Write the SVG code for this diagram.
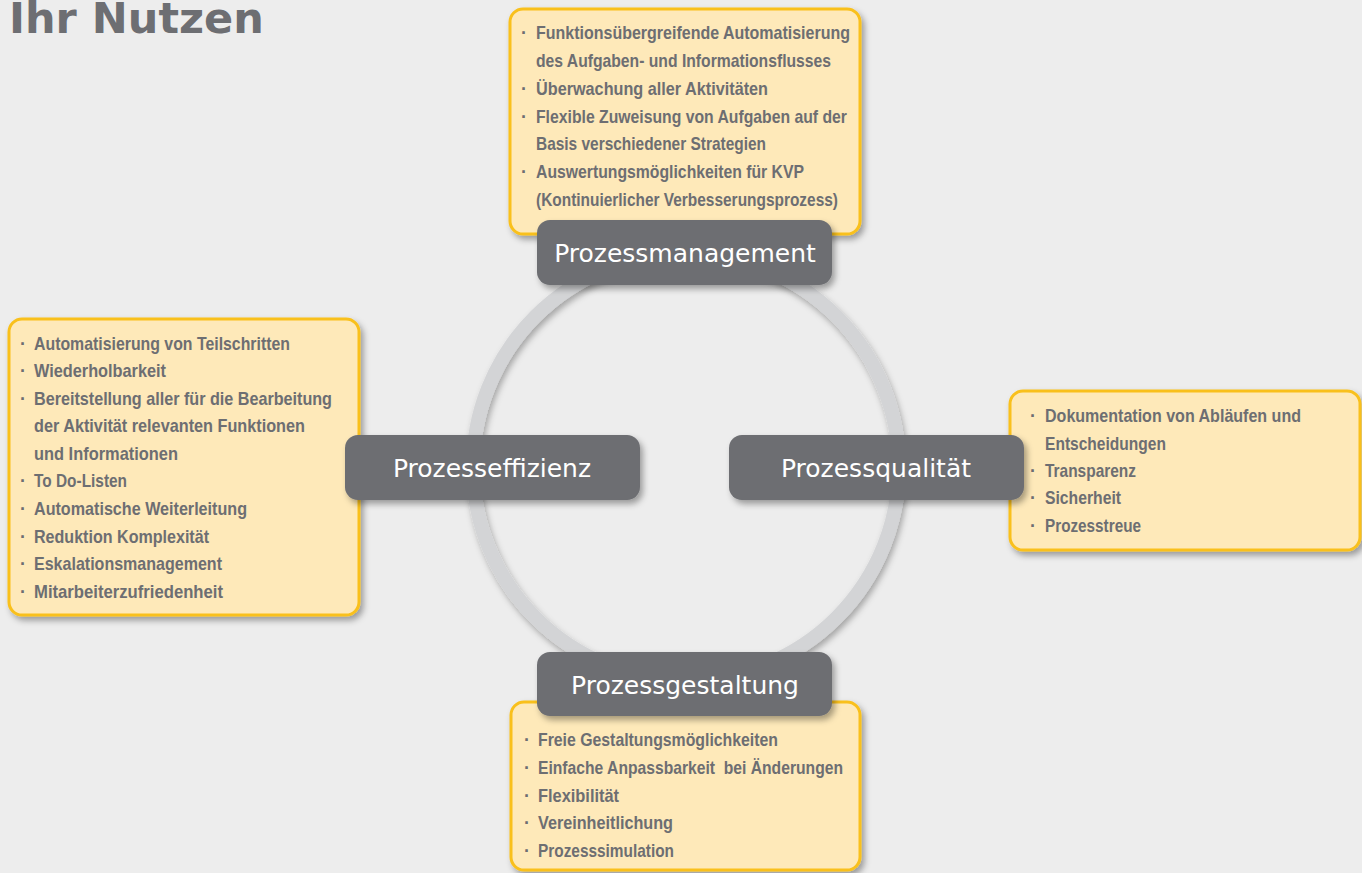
<svg xmlns="http://www.w3.org/2000/svg" width="1362" height="873" viewBox="0 0 1362 873">
<defs>
<filter id="sh" x="-10%" y="-10%" width="130%" height="130%">
<feDropShadow dx="3" dy="4" stdDeviation="3" flood-color="#000" flood-opacity="0.35"/>
</filter>
<filter id="rsh" x="-10%" y="-10%" width="130%" height="130%">
<feDropShadow dx="2" dy="4" stdDeviation="3" flood-color="#000" flood-opacity="0.3"/>
</filter>
<style>
.bg{fill:#ededed}
.title{font-family:"DejaVu Sans",Verdana,sans-serif;font-weight:bold;font-size:43px;fill:#6d6e72}
.info{fill:#fee9b9;stroke:#f9c01b;stroke-width:3}
.lab{fill:#6d6e72}
.labt{font-family:"DejaVu Sans",Verdana,sans-serif;font-size:25px;fill:#ffffff;text-anchor:middle}
.t{font-family:"Liberation Sans Narrow","Liberation Sans",Arial,sans-serif;font-weight:bold;font-size:19px;fill:#6d6e72}
.b{font-family:"Liberation Sans",Arial,sans-serif;font-weight:bold;font-size:18px;fill:#6d6e72;text-anchor:middle}
.ring{fill:none;stroke:#d3d4d6;stroke-width:14}
</style>
</defs>
<rect class="bg" x="0" y="0" width="1362" height="873"/>
<text class="title" x="9" y="33">Ihr Nutzen</text>

<g id="connectors">
<circle class="ring" cx="686" cy="467" r="213" filter="url(#rsh)"/>
</g>

<g id="node-prozessmanagement">
<rect class="info" x="510" y="9" width="350" height="225" rx="13" filter="url(#sh)"/>
<text class="b" x="524" y="39">·</text>
<text class="t" x="536" y="39" textLength="314" lengthAdjust="spacingAndGlyphs">Funktionsübergreifende Automatisierung</text>
<text class="t" x="536" y="67" textLength="295" lengthAdjust="spacingAndGlyphs">des Aufgaben- und Informationsflusses</text>
<text class="b" x="524" y="95">·</text>
<text class="t" x="536" y="95" textLength="232" lengthAdjust="spacingAndGlyphs">Überwachung aller Aktivitäten</text>
<text class="b" x="524" y="123">·</text>
<text class="t" x="536" y="123" textLength="311" lengthAdjust="spacingAndGlyphs">Flexible Zuweisung von Aufgaben auf der</text>
<text class="t" x="536" y="150" textLength="230" lengthAdjust="spacingAndGlyphs">Basis verschiedener Strategien</text>
<text class="b" x="524" y="178">·</text>
<text class="t" x="536" y="178" textLength="268" lengthAdjust="spacingAndGlyphs">Auswertungsmöglichkeiten für KVP</text>
<text class="t" x="536" y="206" textLength="302" lengthAdjust="spacingAndGlyphs">(Kontinuierlicher Verbesserungsprozess)</text>
<rect class="lab" x="537" y="220" width="295" height="65" rx="13" filter="url(#sh)"/>
<text class="labt" x="685" y="262">Prozessmanagement</text>
</g>

<g id="node-prozesseffizienz">
<rect class="info" x="9" y="319" width="350" height="296" rx="13" filter="url(#sh)"/>
<text class="b" x="23" y="350">·</text>
<text class="t" x="34" y="350" textLength="256" lengthAdjust="spacingAndGlyphs">Automatisierung von Teilschritten</text>
<text class="b" x="23" y="377">·</text>
<text class="t" x="34" y="377" textLength="132" lengthAdjust="spacingAndGlyphs">Wiederholbarkeit</text>
<text class="b" x="23" y="405">·</text>
<text class="t" x="34" y="405" textLength="298" lengthAdjust="spacingAndGlyphs">Bereitstellung aller für die Bearbeitung</text>
<text class="t" x="34" y="432" textLength="271" lengthAdjust="spacingAndGlyphs">der Aktivität relevanten Funktionen</text>
<text class="t" x="34" y="460" textLength="144" lengthAdjust="spacingAndGlyphs">und Informationen</text>
<text class="b" x="23" y="487">·</text>
<text class="t" x="34" y="487" textLength="93" lengthAdjust="spacingAndGlyphs">To Do-Listen</text>
<text class="b" x="23" y="515">·</text>
<text class="t" x="34" y="515" textLength="213" lengthAdjust="spacingAndGlyphs">Automatische Weiterleitung</text>
<text class="b" x="23" y="543">·</text>
<text class="t" x="34" y="543" textLength="175" lengthAdjust="spacingAndGlyphs">Reduktion Komplexität</text>
<text class="b" x="23" y="570">·</text>
<text class="t" x="34" y="570" textLength="188" lengthAdjust="spacingAndGlyphs">Eskalationsmanagement</text>
<text class="b" x="23" y="598">·</text>
<text class="t" x="34" y="598" textLength="189" lengthAdjust="spacingAndGlyphs">Mitarbeiterzufriedenheit</text>
<rect class="lab" x="345" y="435" width="295" height="65" rx="13" filter="url(#sh)"/>
<text class="labt" x="492" y="477">Prozesseffizienz</text>
</g>

<g id="node-prozessqualitaet">
<rect class="info" x="1010" y="391" width="350" height="159" rx="13" filter="url(#sh)"/>
<text class="b" x="1033" y="422">·</text>
<text class="t" x="1045" y="422" textLength="256" lengthAdjust="spacingAndGlyphs">Dokumentation von Abläufen und</text>
<text class="t" x="1045" y="450" textLength="121" lengthAdjust="spacingAndGlyphs">Entscheidungen</text>
<text class="b" x="1033" y="477">·</text>
<text class="t" x="1045" y="477" textLength="91" lengthAdjust="spacingAndGlyphs">Transparenz</text>
<text class="b" x="1033" y="504">·</text>
<text class="t" x="1045" y="504" textLength="76" lengthAdjust="spacingAndGlyphs">Sicherheit</text>
<text class="b" x="1033" y="532">·</text>
<text class="t" x="1045" y="532" textLength="96" lengthAdjust="spacingAndGlyphs">Prozesstreue</text>
<rect class="lab" x="729" y="435" width="295" height="65" rx="13" filter="url(#sh)"/>
<text class="labt" x="876" y="477">Prozessqualität</text>
</g>

<g id="node-prozessgestaltung">
<rect class="info" x="511" y="702" width="349" height="168" rx="13" filter="url(#sh)"/>
<text class="b" x="527" y="746">·</text>
<text class="t" x="538" y="746" textLength="240" lengthAdjust="spacingAndGlyphs">Freie Gestaltungsmöglichkeiten</text>
<text class="b" x="527" y="774">·</text>
<text class="t" x="538" y="774" textLength="305" lengthAdjust="spacingAndGlyphs" xml:space="preserve">Einfache Anpassbarkeit  bei Änderungen</text>
<text class="b" x="527" y="802">·</text>
<text class="t" x="538" y="802" textLength="81" lengthAdjust="spacingAndGlyphs">Flexibilität</text>
<text class="b" x="527" y="829">·</text>
<text class="t" x="538" y="829" textLength="135" lengthAdjust="spacingAndGlyphs">Vereinheitlichung</text>
<text class="b" x="527" y="857">·</text>
<text class="t" x="538" y="857" textLength="136" lengthAdjust="spacingAndGlyphs">Prozesssimulation</text>
<rect class="lab" x="537" y="652" width="295" height="64" rx="13" filter="url(#sh)"/>
<text class="labt" x="685" y="694">Prozessgestaltung</text>
</g>
</svg>
